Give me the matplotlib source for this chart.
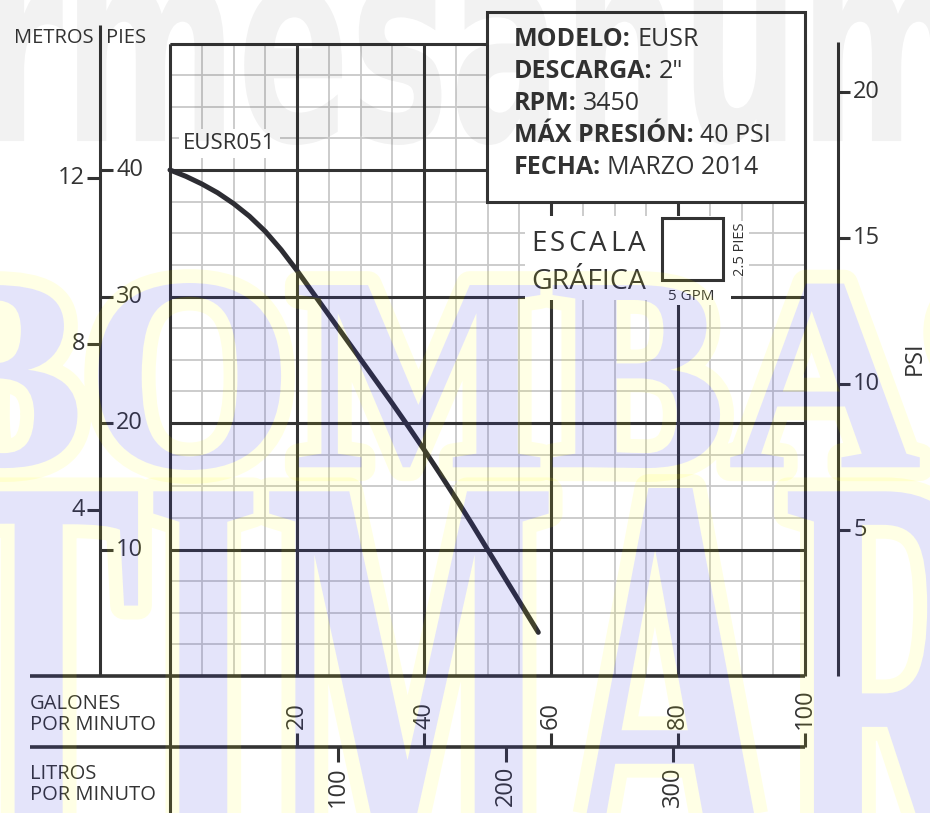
import numpy as np
import matplotlib.pyplot as plt
from matplotlib.patches import Rectangle, PathPatch
from matplotlib.path import Path
from matplotlib.textpath import TextPath
from matplotlib.font_manager import FontProperties
from matplotlib.transforms import Affine2D, IdentityTransform

plt.rcParams['font.family'] = ['Open Sans', 'DejaVu Sans']

# Curva EUSR051: caudal (GPM) contra carga (pies)
gpm = [0, 2.5, 5, 7.5, 10, 12.5, 15, 17.5, 20, 22.5, 25, 27.5, 30,
       32.5, 35, 37.5, 40, 42.5, 45, 47.5, 50, 52.5, 55, 58]
head_ft = [40.0, 39.5, 38.9, 38.2, 37.35, 36.35, 35.15, 33.7, 32.05, 30.3, 28.55, 26.8, 25.05,
           23.3, 21.55, 19.75, 17.9, 16.0, 14.05, 12.05, 10.0, 7.95, 5.9, 3.45]

gpm_ticks = [20, 40, 60, 80, 100]
lpm_ticks = [100, 200, 300]
ft_ticks = [10, 20, 30, 40]
m_ticks = [4, 8, 12]
psi_ticks = [5, 10, 15, 20]

info_labels = ["MODELO:", "DESCARGA:", "RPM:", "MÁX PRESIÓN:", "FECHA:"]
info_values = ["EUSR", '2"', "3450", "40 PSI", "MARZO 2014"]

FT_PER_M = 3.281
FT_PER_PSI = 2.31
L_PER_GAL = 3.785

# layout of the sheet in pixels
W, H = 930, 813
X0, Y0 = 170, 676       # origin of the grid
SX, SY = 6.35, 12.65    # px per GPM, px per foot


def dx(px):
    return (px - X0) / SX


def dy(py):
    return (Y0 - py) / SY


dark = '#333333'
txt = '#333333'

fig = plt.figure(figsize=(W / 100, H / 100), dpi=100)
ax = fig.add_axes([0, 0, 1, 1])
ax.set_xlim(dx(0), dx(W))
ax.set_ylim(dy(H), dy(0))
ax.axis('off')

# grid
ax.vlines(np.arange(0, 101, 5), 0, 50, color='#c8c8c8', lw=1.3, zorder=1)
ax.hlines(np.arange(0, 50.1, 2.5), 0, 100, color='#c8c8c8', lw=1.3, zorder=1)
ax.vlines(np.arange(20, 101, 20), 0, 50, color=dark, lw=2.2, zorder=2)
ax.hlines(np.arange(10, 51, 10), 0, 100, color=dark, lw=2.2, zorder=2)
ax.vlines(0, dy(H), 50, color=dark, lw=2.2, zorder=2)
ax.hlines(0, dx(30), 100, color=dark, lw=2.6, zorder=2)

# pump curve
ax.plot(gpm, head_ft, color='#2d2d33', lw=3.6, solid_capstyle='round',
        solid_joinstyle='round', zorder=6)
ax.text(dx(183), dy(149), "EUSR051", fontsize=16, color=txt, zorder=4,
        bbox=dict(fc='white', ec='none', pad=3))

# info box
ax.add_patch(Rectangle((dx(487), dy(202)), dx(805) - dx(487), dy(12) - dy(202),
                       fc='white', ec=dark, lw=2.2, zorder=5))
baselines = [52, 84, 116, 148, 180]
for lab, val, b in zip(info_labels, info_values, baselines):
    t = ax.text(dx(514), dy(b), lab, fontsize=18, fontweight='bold', color=txt,
                va='bottom', zorder=7)
    ax.annotate(val, xy=(1, 0), xycoords=t, xytext=(4.5, 0), textcoords='offset points',
                fontsize=18, color=txt, va='bottom', zorder=7)

# escala grafica
ax.add_patch(Rectangle((dx(525), dy(300)), dx(731) - dx(525), dy(216) - dy(300),
                       fc='white', ec='none', zorder=3))
ax.add_patch(Rectangle((dx(662), dy(280)), dx(723) - dx(662), dy(218) - dy(280),
                       fc='white', ec=dark, lw=2.2, zorder=4))
prev = ax.text(dx(531), dy(251), "E", fontsize=20, color=txt, va='baseline', zorder=7)
for ch in "SCALA":
    prev = ax.annotate(ch, xy=(1, 0), xycoords=prev, xytext=(2.4, 0),
                       textcoords='offset points', fontsize=20, color=txt,
                       va='bottom', zorder=7)
ax.text(dx(531), dy(289), "GRÁFICA", fontsize=20.5, color=txt, va='baseline', zorder=7)
ax.text(dx(691), dy(296), "5 GPM", fontsize=11, color=txt, ha='center', va='center',
        zorder=7, bbox=dict(fc='white', ec='none', pad=1))
ax.text(dx(740), dy(249), "2.5 PIES", fontsize=10.5, color=txt, ha='center',
        va='center', rotation=90, zorder=7, bbox=dict(fc='white', ec='none', pad=1))

# left axes: pies / metros
ax.vlines(dx(100), 0, dy(25), color=dark, lw=2.2, zorder=2)
ax.hlines(ft_ticks, dx(100), dx(113), color=dark, lw=2.2, zorder=2)
for f in ft_ticks:
    ax.text(dx(116), f, str(f), fontsize=17, color=txt, va='center', zorder=7)
m_ft = [m * FT_PER_M for m in m_ticks]
ax.hlines(m_ft, dx(87), dx(100), color=dark, lw=2.2, zorder=2)
for m, f in zip(m_ticks, m_ft):
    ax.text(dx(85), f, str(m), fontsize=17, color=txt, ha='right', va='center', zorder=7)
ax.text(dx(94), dy(43), "METROS", fontsize=14.5, color=txt, ha='right', va='baseline')
ax.text(dx(106), dy(43), "PIES", fontsize=14.5, color=txt, ha='left', va='baseline')

# right axis: PSI
ax.vlines(dx(838), 0, dy(42), color=dark, lw=2.2, zorder=2)
psi_ft = [p * FT_PER_PSI for p in psi_ticks]
ax.hlines(psi_ft, dx(838), dx(850), color=dark, lw=2.2, zorder=2)
for p, f in zip(psi_ticks, psi_ft):
    ax.text(dx(853), f, str(p), fontsize=17, color=txt, va='center', zorder=7)
ax.text(dx(915), dy(358), "PSI", fontsize=17, color=txt, rotation=90,
        ha='center', va='center')

# bottom axes: GPM / LPM
ax.hlines(dy(747), dx(30), 100, color=dark, lw=2.6, zorder=2)
ax.vlines(gpm_ticks, dy(747), dy(733), color=dark, lw=2.2, zorder=2)
for g in gpm_ticks:
    ax.text(g, dy(729), str(g), fontsize=17, color=txt, rotation=90,
            ha='center', va='bottom', zorder=7)
lpm_x = [l / L_PER_GAL for l in lpm_ticks]
ax.vlines(lpm_x, dy(747), dy(762), color=dark, lw=2.2, zorder=2)
for l, x in zip(lpm_ticks, lpm_x):
    ax.text(x, dy(766), str(l), fontsize=17, color=txt, rotation=90,
            ha='center', va='top', zorder=7)
ax.text(dx(30), dy(730), "GALONES\nPOR MINUTO", fontsize=14.5, color=txt,
        va='baseline', linespacing=1.05)
ax.text(dx(30), dy(800), "LITROS\nPOR MINUTO", fontsize=14.5, color=txt,
        va='baseline', linespacing=1.05)


# watermark words stretched over the sheet
def word_path(word, prop, x0, x1, top, bottom):
    tp = TextPath((0, 0), word, size=100, prop=prop)
    e = tp.get_extents()
    y0, y1 = dy(bottom), dy(top)
    tr = (Affine2D().translate(-e.x0, -e.y0)
          .scale((dx(x1) - dx(x0)) / e.width, (y1 - y0) / e.height)
          .translate(dx(x0), y0))
    return tr.transform_path(tp)


def outside_of(path):
    # page rectangle minus the letters, in display pixels
    polys = path.to_polygons(transform=ax.transData)

    def area(p):
        return 0.5 * np.sum(p[:, 0] * np.roll(p[:, 1], -1) - np.roll(p[:, 0], -1) * p[:, 1])

    big = max(polys, key=lambda p: abs(area(p)))
    rect = np.array([[-50, -50], [W + 50, -50], [W + 50, H + 50], [-50, H + 50], [-50, -50]], float)
    if area(big) > 0:
        rect = rect[::-1]
    return Path.make_compound_path(*[Path(v, closed=True) for v in [rect] + polys])


gray = word_path("rmesanum", FontProperties(family='DejaVu Sans', weight='bold'),
                 -5, 960, -15, 145)
ax.add_patch(PathPatch(gray, fc='black', ec='none', alpha=0.05, zorder=10))

for word, prop, box in [
        ("BOMBAS", FontProperties(family='Liberation Serif', weight='bold'), (-90, 1060, 283, 470)),
        ("TIMAR", FontProperties(family='Liberation Serif', weight='bold'),
         (-60, 1010, 488, 900))]:
    p = word_path(word, prop, *box)
    rim = PathPatch(p, fc='none', ec='#ffff00', lw=20, alpha=0.1,
                    joinstyle='round', zorder=10)
    ax.add_patch(rim)
    rim.set_clip_path(outside_of(p), IdentityTransform())
    ax.add_patch(PathPatch(p, fc='#3333dd', ec='none', alpha=0.13, zorder=11))

fig.savefig("out.png", dpi=100)
